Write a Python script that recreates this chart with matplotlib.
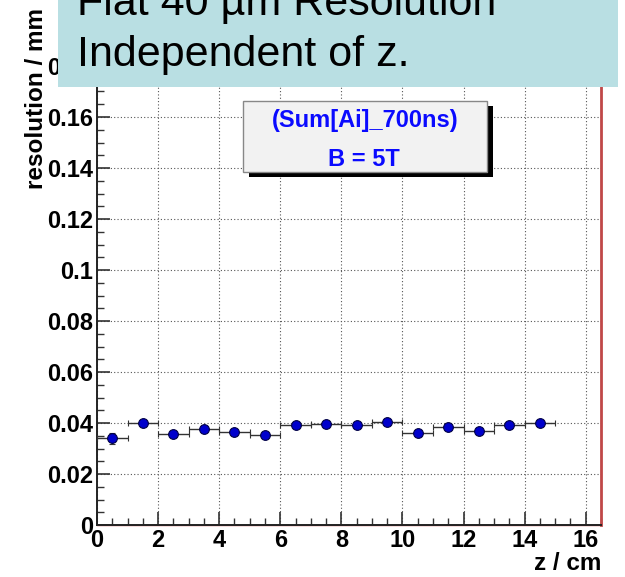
import matplotlib
matplotlib.use("Agg")
import matplotlib.pyplot as plt
from matplotlib.patches import Rectangle
from matplotlib.ticker import MultipleLocator

# Resolution per z bin (bin width 1 cm)
z_centers = [0.5, 1.5, 2.5, 3.5, 4.5, 5.5, 6.5, 7.5, 8.5, 9.5, 10.5, 11.5, 12.5, 13.5, 14.5]
z_halfwidth = [0.5] * 15
resolution = [0.0340, 0.0399, 0.0357, 0.0378, 0.0365, 0.0354, 0.0392, 0.0397,
              0.0393, 0.0404, 0.0361, 0.0386, 0.0370, 0.0393, 0.0401]
resolution_err = [0.0021, 0.0007, 0.0007, 0.0007, 0.0007, 0.0007, 0.0007, 0.0007,
                  0.0007, 0.0007, 0.0007, 0.0007, 0.0007, 0.0007, 0.0007]

x_ticks = [0, 2, 4, 6, 8, 10, 12, 14, 16]
x_tick_labels = ["0", "2", "4", "6", "8", "10", "12", "14", "16"]
y_ticks = [0, 0.02, 0.04, 0.06, 0.08, 0.1, 0.12, 0.14, 0.16, 0.18, 0.2]
y_tick_labels = ["0", "0.02", "0.04", "0.06", "0.08", "0.1", "0.12", "0.14", "0.16", "0.18", "0.2"]

legend_lines = ["(Sum[Ai]_700ns)", "B = 5T"]
banner_lines = ["Flat 40 µm Resolution", "Independent of z."]

W, H = 625, 577
fig = plt.figure(figsize=(W / 100, H / 100), dpi=100)
fig.patch.set_facecolor("white")

def fx(px):
    return px / W

def fy(py):
    return (H - py) / H

ax = fig.add_axes([fx(97), fy(525), fx(601) - fx(97), fy(15) - fy(525)])
ax.set_xlim(0, 16.5)
ax.set_ylim(0, 0.2)

ax.set_xticks(x_ticks)
ax.set_xticklabels(x_tick_labels)
ax.set_yticks(y_ticks)
ax.set_yticklabels(y_tick_labels)
ax.xaxis.set_minor_locator(MultipleLocator(0.5))
ax.yaxis.set_minor_locator(MultipleLocator(0.005))

for lab in ax.get_xticklabels() + ax.get_yticklabels():
    lab.set_fontfamily("Liberation Sans")
    lab.set_fontweight("bold")
    lab.set_fontsize(17)

ax.tick_params(axis="both", which="major", direction="in", length=9.5, width=1.2,
               color="#333333")
ax.tick_params(axis="both", which="minor", direction="in", length=4.8, width=1.0,
               color="#333333")
ax.tick_params(axis="x", which="major", pad=3)
ax.tick_params(axis="y", which="major", pad=3)

ax.grid(True, which="major", color="#555555", linestyle=(0, (1, 2)), linewidth=0.8)
ax.set_axisbelow(True)

for side in ("left", "bottom"):
    ax.spines[side].set_color("#222222")
    ax.spines[side].set_linewidth(1.4)
ax.spines["top"].set_visible(False)
ax.spines["right"].set_color("#c04848")
ax.spines["right"].set_linewidth(2.0)

# thin red frame line along the bottom of the pad
ax.plot([0, 1], [0, 0], transform=ax.transAxes, color="#d05050", lw=1.0,
        clip_on=False, zorder=1)

ax.errorbar(z_centers, resolution, xerr=z_halfwidth, yerr=resolution_err,
            fmt="o", ms=7, mfc="#0000cc", mec="#000044", mew=0.8,
            ecolor="#333333", elinewidth=1.0, capsize=2.2, capthick=1.0, zorder=3)

# statistics-style label box with drop shadow
bx0, bx1, by0, by1 = 243, 487, 101, 172
shadow = Rectangle((fx(bx0 + 6), fy(by1 + 5)), fx(bx1) - fx(bx0), fy(by0) - fy(by1),
                   transform=fig.transFigure, facecolor="black", edgecolor="none",
                   zorder=5)
box = Rectangle((fx(bx0), fy(by1)), fx(bx1) - fx(bx0), fy(by0) - fy(by1),
                transform=fig.transFigure, facecolor="#f2f2f2", edgecolor="#888888",
                linewidth=1.0, zorder=6)
fig.patches.extend([shadow, box])
fig.text(fx(365), fy(121), legend_lines[0], ha="center", va="center", color="#0a0aff",
         fontfamily="Liberation Sans", fontweight="bold", fontsize=17, zorder=7)
fig.text(fx(364), fy(159), legend_lines[1], ha="center", va="center", color="#0a0aff",
         fontfamily="Liberation Sans", fontweight="bold", fontsize=17, zorder=7)

# axis titles
fig.text(fx(37), fy(8), "resolution / mm", rotation=90, ha="center", va="top",
         fontfamily="Liberation Sans", fontweight="bold", fontsize=17.5)
fig.text(fx(601), fy(563), "z / cm", ha="right", va="center",
         fontfamily="Liberation Sans", fontweight="bold", fontsize=17.5)

# banner across the top
banner = Rectangle((fx(58), fy(87)), fx(618) - fx(58), fy(-5) - fy(87),
                   transform=fig.transFigure, facecolor="#b9dfe3", edgecolor="none",
                   zorder=10)
fig.patches.append(banner)
fig.text(fx(77), fy(15), banner_lines[0], ha="left", va="baseline", color="black",
         fontfamily="Liberation Sans", fontsize=31, zorder=11)
fig.text(fx(77), fy(66), banner_lines[1], ha="left", va="baseline", color="black",
         fontfamily="Liberation Sans", fontsize=31, zorder=11)

fig.savefig("out.png", dpi=100)
